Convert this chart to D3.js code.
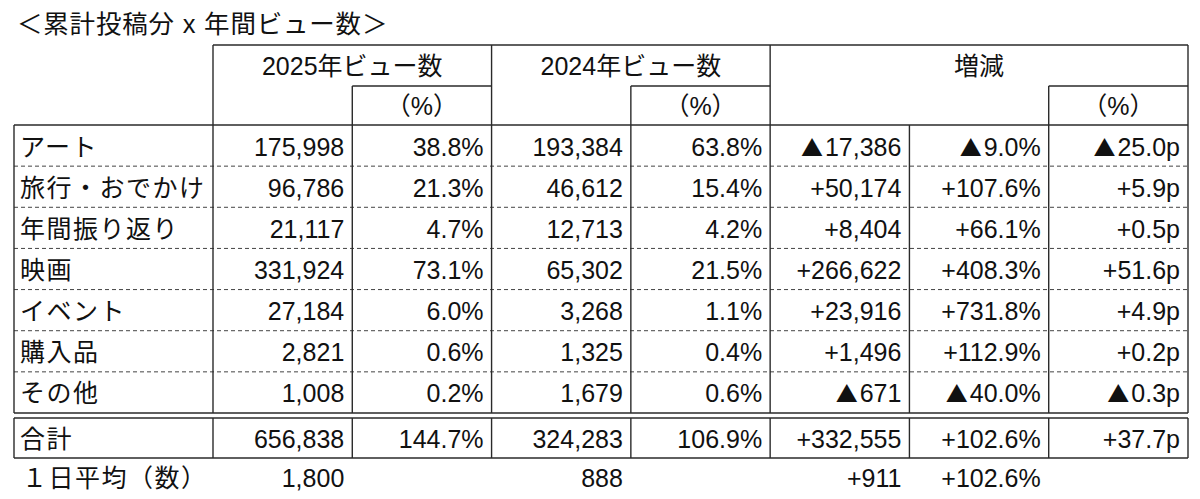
<!DOCTYPE html>
<html>
<head>
<meta charset="utf-8">
<script src="https://cdn.jsdelivr.net/npm/d3@7"></script>
<style>
  body { margin: 0; background: #fff; }
  text { font-family: "Liberation Sans", Arial, "Noto Sans CJK JP", sans-serif; fill: #111; }
  .jp { font-family: "Noto Sans CJK JP", sans-serif; }
</style>
</head>
<body>
<div id="table"></div>
<script>
// Table data
var title = "＜累計投稿分 x 年間ビュー数＞";
var categories = ["アート", "旅行・おでかけ", "年間振り返り", "映画", "イベント", "購入品", "その他"];
var views2025 = [175998, 96786, 21117, 331924, 27184, 2821, 1008];
var share2025 = [38.8, 21.3, 4.7, 73.1, 6.0, 0.6, 0.2];
var views2024 = [193384, 46612, 12713, 65302, 3268, 1325, 1679];
var share2024 = [63.8, 15.4, 4.2, 21.5, 1.1, 0.4, 0.6];
var diffViews = [-17386, 50174, 8404, 266622, 23916, 1496, -671];
var diffRate = [-9.0, 107.6, 66.1, 408.3, 731.8, 112.9, -40.0];
var diffShare = [-25.0, 5.9, 0.5, 51.6, 4.9, 0.2, -0.3];
var totalRow = [656838, 144.7, 324283, 106.9, 332555, 102.6, 37.7];
var dailyRow = [1800, null, 888, null, 911, 102.6, null];
var groupHeaders = ["2025年ビュー数", "2024年ビュー数", "増減"];
var pctHeader = "（%）";

var svgWidth = 1200;
var svgHeight = 499;

var svg = d3.select("#table")
  .append("svg")
  .attr("width", svgWidth)
  .attr("height", svgHeight);

var colKeys = ["v25", "s25", "v24", "s24", "dv", "dr", "ds"];
var xScale = d3.scaleBand().domain(colKeys).range([213, 1188]);
var yScale = d3.scaleBand().domain(categories).range([125, 413]);
var tableLeft = 14;
var tableRight = 1188;
var rowH = yScale.bandwidth();

var fmtInt = d3.format(",");
var fmt1 = d3.format(".1f");

function signed(v, suffix, f) {
  var s = f(Math.abs(v)) + suffix;
  return v < 0 ? "▲" + s : "+" + s;
}

function formatRow(r) {
  return [
    fmtInt(r[0]), fmt1(r[1]) + "%",
    fmtInt(r[2]), fmt1(r[3]) + "%",
    signed(r[4], "", fmtInt), signed(r[5], "%", fmt1), signed(r[6], "p", fmt1)
  ];
}

var fontSize = 25;
var pad = 8;

function line(x1, y1, x2, y2, dashed) {
  svg.append("line")
    .attr("x1", x1).attr("y1", y1).attr("x2", x2).attr("y2", y2)
    .attr("stroke", dashed ? "#444" : "#2a2a2a")
    .attr("stroke-width", dashed ? 1 : 1.4)
    .attr("stroke-dasharray", dashed ? "4,3" : null);
}

// right aligned number cell; a leading ▲ is drawn with the CJK font
function numCell(sel, x, y, t) {
  var txt = sel.append("text")
    .attr("x", x)
    .attr("y", y)
    .attr("dy", "0.4em")
    .attr("text-anchor", "end")
    .attr("font-size", fontSize);
  if (t.charAt(0) === "▲") {
    txt.append("tspan").attr("class", "jp").attr("font-size", 22).text("▲");
    txt.append("tspan").attr("dx", 2).text(t.slice(1));
  } else {
    txt.text(t);
  }
}

function labelCell(sel, x, y, t) {
  sel.append("text")
    .attr("x", x)
    .attr("y", y)
    .attr("dy", "0.4em")
    .attr("font-size", fontSize)
    .attr("letter-spacing", 1.5)
    .text(t);
}

// Title
svg.append("text")
  .attr("x", 17)
  .attr("y", 33)
  .attr("font-size", 25.5)
  .attr("letter-spacing", 0.8)
  .text(title);

// Header
var headTop = 45;
var subTop = 86;
var bodyTop = yScale(categories[0]);
var groups = [["v25", "s25"], ["v24", "s24"], ["dv", "ds"]];

groups.forEach(function(g, k) {
  var x0 = xScale(g[0]);
  var x1 = xScale(g[1]) + xScale.bandwidth();
  svg.append("text")
    .attr("x", (x0 + x1) / 2)
    .attr("y", (headTop + subTop) / 2)
    .attr("dy", "0.36em")
    .attr("text-anchor", "middle")
    .attr("font-size", fontSize)
    .text(groupHeaders[k]);
});

["s25", "s24", "ds"].forEach(function(c) {
  svg.append("text")
    .attr("x", xScale(c) + xScale.bandwidth() / 2)
    .attr("y", (subTop + bodyTop) / 2)
    .attr("dy", "0.38em")
    .attr("text-anchor", "middle")
    .attr("font-size", fontSize)
    .text(pctHeader);
  line(xScale(c), subTop, xScale(c) + xScale.bandwidth(), subTop);
  line(xScale(c), subTop, xScale(c), bodyTop);
});

// header box
line(xScale("v25"), headTop, tableRight, headTop);
line(xScale("v25"), headTop, xScale("v25"), bodyTop);
line(xScale("v24"), headTop, xScale("v24"), bodyTop);
line(xScale("dv"), headTop, xScale("dv"), bodyTop);
line(tableRight, headTop, tableRight, bodyTop);

// Body rows
var rows = svg.selectAll("g.row")
  .data(categories)
  .enter()
  .append("g")
  .attr("class", "row")
  .attr("transform", d => `translate(0, ${yScale(d)})`);

rows.each(function(d, i) {
  var g = d3.select(this);
  labelCell(g, tableLeft + 6, rowH / 2, d);
  var texts = formatRow([views2025[i], share2025[i], views2024[i], share2024[i],
    diffViews[i], diffRate[i], diffShare[i]]);
  texts.forEach(function(t, j) {
    numCell(g, xScale(colKeys[j]) + xScale.bandwidth() - pad, rowH / 2, t);
  });
});

// body grid
var bodyBottom = yScale.range()[1];
var vLines = [tableLeft].concat(colKeys.map(c => xScale(c)), [tableRight]);
line(tableLeft, bodyTop, tableRight, bodyTop);
categories.slice(1).forEach(function(c) {
  line(tableLeft, yScale(c), tableRight, yScale(c), true);
});
line(tableLeft, bodyBottom, tableRight, bodyBottom);
vLines.forEach(function(x) {
  line(x, bodyTop, x, bodyBottom);
});

// Total row
var totTop = bodyBottom + 5;
var totBottom = totTop + 40;
var totMid = (totTop + totBottom) / 2;
labelCell(svg, tableLeft + 6, totMid, "合計");
formatRow(totalRow).forEach(function(t, j) {
  numCell(svg, xScale(colKeys[j]) + xScale.bandwidth() - pad, totMid, t);
});
line(tableLeft, totTop, tableRight, totTop);
line(tableLeft, totBottom, tableRight, totBottom);
vLines.forEach(function(x) {
  line(x, totTop, x, totBottom);
});

// Daily average row (no borders)
var dayY = totBottom + 19;
labelCell(svg, tableLeft + 8, dayY, "１日平均（数）");

var dayTexts = [
  fmtInt(dailyRow[0]), null, fmtInt(dailyRow[2]), null,
  signed(dailyRow[4], "", fmtInt), signed(dailyRow[5], "%", fmt1), null
];
dayTexts.forEach(function(t, j) {
  if (t === null) return;
  numCell(svg, xScale(colKeys[j]) + xScale.bandwidth() - pad, dayY, t);
});
</script>
</body>
</html>
